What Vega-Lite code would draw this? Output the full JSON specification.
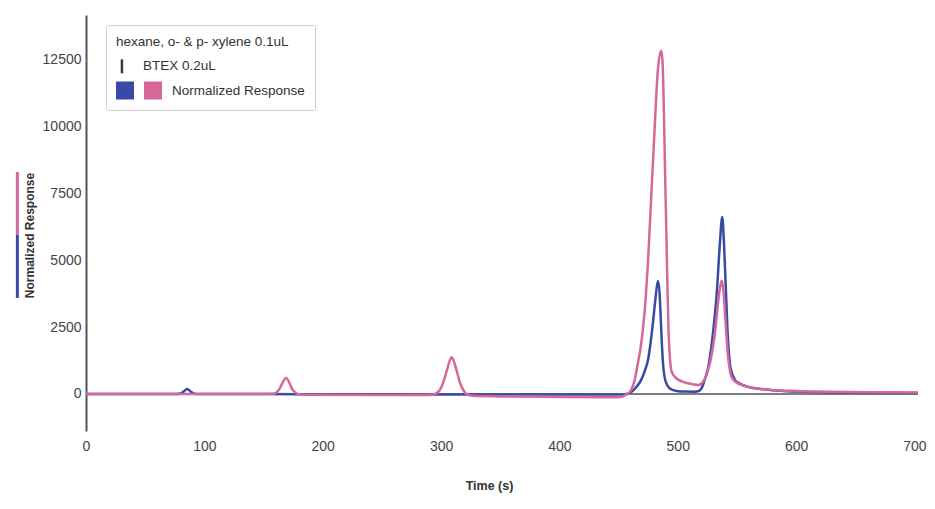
{
  "$schema": "https://vega.github.io/schema/vega-lite/v6.json",
  "width": 832,
  "height": 416,
  "autosize": "none",
  "padding": {"left": 86, "top": 15, "right": 17, "bottom": 78},
  "config": {
    "font": "Liberation Sans",
    "view": {"stroke": null},
    "axis": {
      "labelFontSize": 14,
      "labelColor": "#444",
      "ticks": false,
      "gridColor": "#e3e3e3",
      "titleFontWeight": "bold",
      "titleColor": "#333"
    }
  },
  "layer": [
    {
      "data": {"values": [{}]},
      "mark": {"type": "rule", "color": "#555", "strokeWidth": 1.5},
      "encoding": {
        "x": {"datum": 0, "type": "quantitative"},
        "x2": {"datum": 703},
        "y": {"datum": 0, "type": "quantitative"}
      }
    },
    {
      "data": {
        "values": [
          {"t": 0, "v": 0, "series": "hexane, o- & p- xylene 0.1uL"},
          {"t": 60, "v": 0, "series": "hexane, o- & p- xylene 0.1uL"},
          {"t": 77, "v": 0, "series": "hexane, o- & p- xylene 0.1uL"},
          {"t": 80, "v": 20, "series": "hexane, o- & p- xylene 0.1uL"},
          {"t": 82, "v": 70, "series": "hexane, o- & p- xylene 0.1uL"},
          {"t": 84, "v": 150, "series": "hexane, o- & p- xylene 0.1uL"},
          {"t": 85.5, "v": 185, "series": "hexane, o- & p- xylene 0.1uL"},
          {"t": 87, "v": 150, "series": "hexane, o- & p- xylene 0.1uL"},
          {"t": 89, "v": 70, "series": "hexane, o- & p- xylene 0.1uL"},
          {"t": 91, "v": 20, "series": "hexane, o- & p- xylene 0.1uL"},
          {"t": 95, "v": 0, "series": "hexane, o- & p- xylene 0.1uL"},
          {"t": 150, "v": 0, "series": "hexane, o- & p- xylene 0.1uL"},
          {"t": 200, "v": -10, "series": "hexane, o- & p- xylene 0.1uL"},
          {"t": 300, "v": -15, "series": "hexane, o- & p- xylene 0.1uL"},
          {"t": 400, "v": -20, "series": "hexane, o- & p- xylene 0.1uL"},
          {"t": 452, "v": -20, "series": "hexane, o- & p- xylene 0.1uL"},
          {"t": 457, "v": 0, "series": "hexane, o- & p- xylene 0.1uL"},
          {"t": 461, "v": 80, "series": "hexane, o- & p- xylene 0.1uL"},
          {"t": 465, "v": 260, "series": "hexane, o- & p- xylene 0.1uL"},
          {"t": 469, "v": 520, "series": "hexane, o- & p- xylene 0.1uL"},
          {"t": 472, "v": 850, "series": "hexane, o- & p- xylene 0.1uL"},
          {"t": 475, "v": 1300, "series": "hexane, o- & p- xylene 0.1uL"},
          {"t": 477, "v": 1900, "series": "hexane, o- & p- xylene 0.1uL"},
          {"t": 479, "v": 2650, "series": "hexane, o- & p- xylene 0.1uL"},
          {"t": 481, "v": 3500, "series": "hexane, o- & p- xylene 0.1uL"},
          {"t": 483.2, "v": 4230, "series": "hexane, o- & p- xylene 0.1uL"},
          {"t": 484.6, "v": 3800, "series": "hexane, o- & p- xylene 0.1uL"},
          {"t": 486, "v": 2450, "series": "hexane, o- & p- xylene 0.1uL"},
          {"t": 487.3, "v": 1300, "series": "hexane, o- & p- xylene 0.1uL"},
          {"t": 488.8, "v": 650, "series": "hexane, o- & p- xylene 0.1uL"},
          {"t": 491.5, "v": 300, "series": "hexane, o- & p- xylene 0.1uL"},
          {"t": 494, "v": 190, "series": "hexane, o- & p- xylene 0.1uL"},
          {"t": 499, "v": 115, "series": "hexane, o- & p- xylene 0.1uL"},
          {"t": 506, "v": 90, "series": "hexane, o- & p- xylene 0.1uL"},
          {"t": 514, "v": 85, "series": "hexane, o- & p- xylene 0.1uL"},
          {"t": 518.5, "v": 130, "series": "hexane, o- & p- xylene 0.1uL"},
          {"t": 521, "v": 300, "series": "hexane, o- & p- xylene 0.1uL"},
          {"t": 523, "v": 560, "series": "hexane, o- & p- xylene 0.1uL"},
          {"t": 526, "v": 1050, "series": "hexane, o- & p- xylene 0.1uL"},
          {"t": 528.5, "v": 1800, "series": "hexane, o- & p- xylene 0.1uL"},
          {"t": 531, "v": 2800, "series": "hexane, o- & p- xylene 0.1uL"},
          {"t": 533, "v": 3800, "series": "hexane, o- & p- xylene 0.1uL"},
          {"t": 535.4, "v": 5500, "series": "hexane, o- & p- xylene 0.1uL"},
          {"t": 537.6, "v": 6620, "series": "hexane, o- & p- xylene 0.1uL"},
          {"t": 539, "v": 5700, "series": "hexane, o- & p- xylene 0.1uL"},
          {"t": 540.5, "v": 4100, "series": "hexane, o- & p- xylene 0.1uL"},
          {"t": 542, "v": 2400, "series": "hexane, o- & p- xylene 0.1uL"},
          {"t": 544, "v": 1150, "series": "hexane, o- & p- xylene 0.1uL"},
          {"t": 546, "v": 750, "series": "hexane, o- & p- xylene 0.1uL"},
          {"t": 548.5, "v": 520, "series": "hexane, o- & p- xylene 0.1uL"},
          {"t": 552, "v": 400, "series": "hexane, o- & p- xylene 0.1uL"},
          {"t": 559, "v": 270, "series": "hexane, o- & p- xylene 0.1uL"},
          {"t": 570, "v": 190, "series": "hexane, o- & p- xylene 0.1uL"},
          {"t": 580, "v": 140, "series": "hexane, o- & p- xylene 0.1uL"},
          {"t": 600, "v": 90, "series": "hexane, o- & p- xylene 0.1uL"},
          {"t": 630, "v": 60, "series": "hexane, o- & p- xylene 0.1uL"},
          {"t": 660, "v": 45, "series": "hexane, o- & p- xylene 0.1uL"},
          {"t": 703, "v": 35, "series": "hexane, o- & p- xylene 0.1uL"},
          {"t": 0, "v": 0, "series": "BTEX 0.2uL"},
          {"t": 150, "v": 0, "series": "BTEX 0.2uL"},
          {"t": 158, "v": 5, "series": "BTEX 0.2uL"},
          {"t": 161, "v": 60, "series": "BTEX 0.2uL"},
          {"t": 164, "v": 230, "series": "BTEX 0.2uL"},
          {"t": 166.5, "v": 460, "series": "BTEX 0.2uL"},
          {"t": 169, "v": 610, "series": "BTEX 0.2uL"},
          {"t": 171.5, "v": 450, "series": "BTEX 0.2uL"},
          {"t": 174, "v": 200, "series": "BTEX 0.2uL"},
          {"t": 177, "v": 50, "series": "BTEX 0.2uL"},
          {"t": 180, "v": -10, "series": "BTEX 0.2uL"},
          {"t": 190, "v": -30, "series": "BTEX 0.2uL"},
          {"t": 250, "v": -40, "series": "BTEX 0.2uL"},
          {"t": 290, "v": -40, "series": "BTEX 0.2uL"},
          {"t": 295, "v": 0, "series": "BTEX 0.2uL"},
          {"t": 299, "v": 150, "series": "BTEX 0.2uL"},
          {"t": 302, "v": 450, "series": "BTEX 0.2uL"},
          {"t": 305, "v": 900, "series": "BTEX 0.2uL"},
          {"t": 307.5, "v": 1260, "series": "BTEX 0.2uL"},
          {"t": 309, "v": 1375, "series": "BTEX 0.2uL"},
          {"t": 310.5, "v": 1260, "series": "BTEX 0.2uL"},
          {"t": 313, "v": 900, "series": "BTEX 0.2uL"},
          {"t": 316, "v": 420, "series": "BTEX 0.2uL"},
          {"t": 319, "v": 130, "series": "BTEX 0.2uL"},
          {"t": 322, "v": -20, "series": "BTEX 0.2uL"},
          {"t": 326, "v": -70, "series": "BTEX 0.2uL"},
          {"t": 350, "v": -90, "series": "BTEX 0.2uL"},
          {"t": 400, "v": -110, "series": "BTEX 0.2uL"},
          {"t": 440, "v": -120, "series": "BTEX 0.2uL"},
          {"t": 452, "v": -110, "series": "BTEX 0.2uL"},
          {"t": 456, "v": -40, "series": "BTEX 0.2uL"},
          {"t": 460.6, "v": 150, "series": "BTEX 0.2uL"},
          {"t": 463.5, "v": 500, "series": "BTEX 0.2uL"},
          {"t": 466.3, "v": 1150, "series": "BTEX 0.2uL"},
          {"t": 468.5, "v": 1700, "series": "BTEX 0.2uL"},
          {"t": 470.5, "v": 2400, "series": "BTEX 0.2uL"},
          {"t": 472.8, "v": 3500, "series": "BTEX 0.2uL"},
          {"t": 474.8, "v": 4890, "series": "BTEX 0.2uL"},
          {"t": 477.6, "v": 7385, "series": "BTEX 0.2uL"},
          {"t": 480.4, "v": 9880, "series": "BTEX 0.2uL"},
          {"t": 483.2, "v": 12130, "series": "BTEX 0.2uL"},
          {"t": 486, "v": 12850, "series": "BTEX 0.2uL"},
          {"t": 487.2, "v": 12400, "series": "BTEX 0.2uL"},
          {"t": 488.3, "v": 10500, "series": "BTEX 0.2uL"},
          {"t": 489.3, "v": 8300, "series": "BTEX 0.2uL"},
          {"t": 490.3, "v": 6140, "series": "BTEX 0.2uL"},
          {"t": 491.2, "v": 4200, "series": "BTEX 0.2uL"},
          {"t": 492.2, "v": 2400, "series": "BTEX 0.2uL"},
          {"t": 493.3, "v": 1400, "series": "BTEX 0.2uL"},
          {"t": 494.5, "v": 900, "series": "BTEX 0.2uL"},
          {"t": 496.5, "v": 700, "series": "BTEX 0.2uL"},
          {"t": 498.7, "v": 590, "series": "BTEX 0.2uL"},
          {"t": 503, "v": 480, "series": "BTEX 0.2uL"},
          {"t": 508.6, "v": 400, "series": "BTEX 0.2uL"},
          {"t": 513, "v": 360, "series": "BTEX 0.2uL"},
          {"t": 517, "v": 340, "series": "BTEX 0.2uL"},
          {"t": 519.5, "v": 370, "series": "BTEX 0.2uL"},
          {"t": 521.3, "v": 460, "series": "BTEX 0.2uL"},
          {"t": 523.5, "v": 620, "series": "BTEX 0.2uL"},
          {"t": 525.6, "v": 900, "series": "BTEX 0.2uL"},
          {"t": 527.7, "v": 1250, "series": "BTEX 0.2uL"},
          {"t": 529.8, "v": 1770, "series": "BTEX 0.2uL"},
          {"t": 532, "v": 2500, "series": "BTEX 0.2uL"},
          {"t": 534, "v": 3395, "series": "BTEX 0.2uL"},
          {"t": 535.8, "v": 4000, "series": "BTEX 0.2uL"},
          {"t": 537.1, "v": 4240, "series": "BTEX 0.2uL"},
          {"t": 538.3, "v": 4000, "series": "BTEX 0.2uL"},
          {"t": 539.6, "v": 3270, "series": "BTEX 0.2uL"},
          {"t": 541, "v": 2300, "series": "BTEX 0.2uL"},
          {"t": 542.5, "v": 1400, "series": "BTEX 0.2uL"},
          {"t": 544, "v": 900, "series": "BTEX 0.2uL"},
          {"t": 545.3, "v": 650, "series": "BTEX 0.2uL"},
          {"t": 549, "v": 450, "series": "BTEX 0.2uL"},
          {"t": 553.8, "v": 340, "series": "BTEX 0.2uL"},
          {"t": 565, "v": 220, "series": "BTEX 0.2uL"},
          {"t": 579, "v": 150, "series": "BTEX 0.2uL"},
          {"t": 600, "v": 110, "series": "BTEX 0.2uL"},
          {"t": 630, "v": 80, "series": "BTEX 0.2uL"},
          {"t": 660, "v": 65, "series": "BTEX 0.2uL"},
          {"t": 703, "v": 55, "series": "BTEX 0.2uL"}
        ]
      },
      "mark": {"type": "line", "strokeWidth": 2.5, "interpolate": "monotone"},
      "encoding": {
        "x": {
          "field": "t",
          "type": "quantitative",
          "scale": {"domain": [0, 703], "nice": false, "zero": false},
          "axis": {
            "values": [0, 100, 200, 300, 400, 500, 600, 700],
            "format": "d",
            "domain": false,
            "labelFlush": false,
            "labelPadding": 8,
            "title": "Time (s)",
            "titleFontSize": 12.5,
            "titlePadding": 26,
            "titleX": 403,
            "titleAlign": "center"
          }
        },
        "y": {
          "field": "v",
          "type": "quantitative",
          "scale": {"domain": [-1385, 14184], "nice": false, "zero": false},
          "axis": {
            "values": [0, 2500, 5000, 7500, 10000, 12500],
            "format": "d",
            "domainColor": "#555",
            "domainWidth": 2,
            "labelPadding": 5,
            "title": "Normalized Response",
            "titleFontSize": 12,
            "titleAngle": -90,
            "titleX": -57,
            "titleY": 220,
            "titleAlign": "center",
            "titleBaseline": "middle"
          }
        },
        "color": {
          "field": "series",
          "type": "nominal",
          "scale": {
            "domain": ["hexane, o- & p- xylene 0.1uL", "BTEX 0.2uL"],
            "range": ["#3949a5", "#d6679a"]
          },
          "legend": {
            "orient": "none",
            "legendX": 20,
            "legendY": 10,
            "title": ["hexane, o- & p- xylene 0.1uL", "\u00a0\u00a0\u2759\u00a0\u00a0\u00a0\u00a0BTEX 0.2uL"],
            "direction": "horizontal",
            "columns": 2,
            "labelExpr": "datum.value == 'BTEX 0.2uL' ? 'Normalized Response' : ''",
            "symbolType": "square",
            "symbolSize": 324,
            "symbolStrokeWidth": 0,
            "labelOffset": 10,
            "columnPadding": -1,
            "padding": 10,
            "fillColor": "white",
            "strokeColor": "#cfcfcf",
            "cornerRadius": 2,
            "titleFontSize": 13.5,
            "titleFontWeight": "normal",
            "titleColor": "#333",
            "titleLineHeight": 24,
            "titlePadding": 9,
            "labelFontSize": 13.5,
            "labelColor": "#333",
            "encode": {
              "symbols": {
                "update": {
                  "fill": {"scale": "color", "field": "value"},
                  "fillOpacity": {"value": 1},
                  "strokeWidth": {"value": 0}
                }
              }
            }
          }
        }
      }
    },
    {
      "data": {"values": [{}]},
      "mark": {"type": "rule", "strokeWidth": 3},
      "encoding": {
        "x": {"datum": -58, "type": "quantitative"},
        "y": {"datum": 8308, "type": "quantitative"},
        "y2": {"datum": 5951},
        "color": {"datum": "BTEX 0.2uL", "type": "nominal", "legend": null}
      }
    },
    {
      "data": {"values": [{}]},
      "mark": {"type": "rule", "strokeWidth": 3},
      "encoding": {
        "x": {"datum": -58, "type": "quantitative"},
        "y": {"datum": 5951, "type": "quantitative"},
        "y2": {"datum": 3593},
        "color": {"datum": "hexane, o- & p- xylene 0.1uL", "type": "nominal", "legend": null}
      }
    }
  ]
}
